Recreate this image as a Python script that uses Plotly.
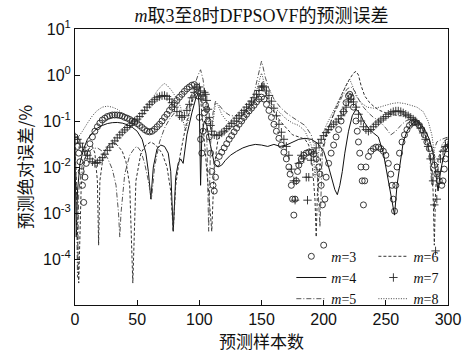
import plotly.graph_objects as go

# ---------------- data (sample index, absolute error %) ----------------
m3_pts = [(0,.045),(1,.038),(2,.028),(3,.02),(4,.013),(5,.008),(6,.004),(7,.0017),(8,.006),(9,.012),(10,.02),
          (12,.032),(14,.045),(16,.06),(18,.075),(20,.09),(22,.105),(24,.115),(26,.125),(28,.13),(30,.135),
          (32,.135),(34,.135),(36,.132),(38,.128),(40,.12),(42,.115),(44,.108),(46,.1),(48,.095),(50,.088),
          (52,.08),(54,.072),(56,.065),(58,.06),(60,.058),(62,.06),(64,.066),(66,.075),(68,.085),(70,.1),
          (72,.12),(74,.14),(76,.17),(78,.2),(80,.24),(82,.28),(84,.33),(86,.38),(88,.44),(90,.5),(92,.55),
          (94,.6),(96,.62),(98,.55),(99,.35),(100,.12),(101,.04),(102,.02),(103,.06),(104,.15),(105,.22),
          (106,.18),(107,.1),(108,.045),(109,.02),(110,.008),(111,.004),(112,.003),(113,.006),(114,.012),
          (116,.017),(118,.021),(120,.026),(122,.032),(124,.04),(126,.048),(128,.058),(130,.07),(132,.085),
          (134,.1),(136,.12),(138,.14),(140,.165),(142,.19),(144,.22),(146,.26),(148,.3),(150,.33),(152,.3),
          (154,.23),(156,.17),(158,.12),(160,.085),(162,.06),(164,.042),(166,.03),(168,.021),(170,.015),
          (172,.01),(173,.007),(174,.004),(175,.002),(176,.0009),(177,.002),(178,.005),(179,.008),(180,.011),
          (182,.015),(184,.018),(186,.02),(188,.021),(190,.021),(192,.019),(194,.015),(196,.01),(197,.007),
          (198,.004),(199,.0015),(200,.0002),(201,.002),(202,.006),(204,.012),(206,.02),(208,.03),(210,.045),
          (212,.065),(214,.1),(216,.16),(218,.25),(220,.35),(221,.38),(222,.33),(224,.2),(226,.1),(227,.06),
          (228,.035),(229,.02),(230,.01),(231,.005),(232,.0015),(233,.005),(234,.01),(236,.017),(238,.022),
          (240,.025),(242,.027),(244,.027),(246,.025),(248,.022),(250,.018),(252,.012),(254,.007),(255,.004),
          (256,.002),(257,.0011),(258,.004),(259,.01),(261,.02),(263,.035),(265,.05),(267,.065),(269,.08),
          (271,.09),(273,.095),(275,.09),(277,.08),(279,.065),(281,.05),(283,.035),(285,.025),(287,.017),
          (289,.011),(291,.007),(293,.005),(295,.004),(296,.005),(297,.009),(298,.015),(299,.025),(300,.035)]

m4_pts = [(0,.025),(1,.0003),(2,.003),(4,.012),(7,.025),(10,.04),(14,.055),(18,.07),(22,.08),(26,.088),
          (30,.092),(34,.093),(38,.09),(42,.083),(46,.073),(50,.06),(54,.04),(57,.02),(59,.008),(61,.002),
          (63,.01),(66,.025),(69,.03),(72,.028),(75,.02),(77,.008),(79,.0004),(81,.006),(83,.012),(85,.015),
          (87,.012),(90,.05),(94,.15),(97,.3),(99,.4),(100,.2),(101,.004),(102,.05),(104,.1),(106,.08),
          (108,.04),(110,.02),(112,.012),(115,.01),(118,.011),(121,.014),(125,.018),(130,.022),(135,.026),
          (140,.029),(145,.031),(150,.03),(155,.028),(160,.031),(165,.028),(170,.03),(175,.035),(180,.04),
          (185,.042),(190,.04),(195,.033),(200,.022),(204,.01),(207,.005),(209,.0032),(211,.0025),(213,.004),
          (215,.008),(217,.02),(220,.06),(223,.13),(226,.18),(229,.15),(232,.1),(236,.07),(240,.055),
          (244,.045),(248,.02),(251,.007),(254,.003),(257,.0009),(259,.004),(261,.01),(264,.035),(267,.06),
          (270,.08),(273,.095),(276,.095),(279,.08),(282,.06),(285,.04),(288,.02),(290,.008),(292,.003),
          (294,.008),(296,.015),(298,.022),(300,.028)]

m5_pts = [(0,.03),(1,.005),(2,.00004),(3,.003),(6,.012),(10,.02),(14,.025),(18,.026),(22,.022),(26,.016),
          (30,.009),(33,.004),(35,.001),(36,.0003),(37,.001),(40,.007),(44,.018),(48,.026),(50,.028),
          (53,.022),(56,.012),(59,.005),(61.5,.002),(64,.01),(68,.035),(72,.07),(76,.11),(80,.15),(84,.17),
          (87,.15),(90,.2),(93,.35),(96,.6),(99,1.0),(101,1.3),(103,.8),(105,.3),(106,.05),(107.5,.0004),
          (109,.03),(111,.15),(113,.27),(116,.22),(120,.16),(125,.13),(130,.13),(135,.15),(140,.22),(144,.4),
          (147,.9),(149,1.6),(150,2.0),(151,1.6),(153,.9),(156,.5),(160,.3),(165,.2),(170,.15),(175,.12),
          (180,.1),(185,.08),(190,.05),(194,.02),(197,.0005),(199,.02),(203,.06),(207,.12),(211,.2),(215,.35),
          (219,.5),(222,.55),(225,.45),(228,.3),(232,.2),(236,.15),(240,.12),(245,.1),(250,.07),(254,.05),
          (258,.06),(262,.08),(266,.1),(270,.11),(274,.1),(278,.08),(282,.05),(285,.02),(287,.004),(288,.02),
          (291,.035),(295,.04),(300,.045)]

m6_pts = [(0,.035),(1,.005),(3,.00003),(5,.004),(8,.015),(11,.025),(14,.028),(16,.02),(18,.005),(19,.0002),
          (20,.005),(23,.02),(27,.03),(31,.034),(34,.03),(38,.022),(41,.013),(44,.004),(46.5,.00003),(49,.005),
          (53,.02),(57,.03),(61,.035),(65,.03),(70,.02),(74,.01),(77,.003),(79,.0004),(81,.004),(84,.015),
          (87,.04),(90,.1),(94,.25),(97,.45),(99,.5),(101,.3),(103,.08),(105,.02),(107,.004),(110,.0004),
          (112,.01),(115,.04),(120,.06),(125,.07),(130,.08),(135,.1),(140,.15),(144,.25),(147,.4),(150,.6),
          (152,.5),(155,.3),(160,.16),(165,.1),(170,.07),(175,.05),(180,.045),(185,.04),(188,.03),(191,.01),
          (193,.002),(194,.0003),(195,.003),(198,.02),(202,.05),(206,.1),(210,.2),(215,.4),(220,.75),(224,1.1),
          (226,1.2),(228,1.0),(230,.6),(233,.35),(237,.25),(241,.2),(245,.17),(250,.15),(255,.14),(260,.13),
          (265,.13),(270,.12),(275,.1),(279,.07),(283,.04),(286,.015),(288,.003),(289,.0002),(290,.003),
          (292,.015),(295,.025),(298,.03),(300,.032)]

m7_pts = [(0,.045),(2,.04),(4,.033),(6,.027),(8,.022),(10,.018),(12,.015),(14,.013),(16,.012),(18,.0125),
          (20,.014),(22,.016),(24,.019),(26,.023),(28,.027),(30,.032),(32,.037),(34,.043),(36,.05),(38,.057),
          (40,.064),(42,.072),(44,.08),(46,.09),(48,.1),(50,.11),(52,.125),(54,.145),(56,.17),(58,.2),(60,.23),
          (62,.26),(64,.29),(66,.32),(68,.34),(70,.355),(72,.36),(74,.34),(76,.3),(78,.25),(80,.2),(82,.16),
          (84,.13),(86,.12),(88,.13),(90,.17),(92,.23),(94,.32),(96,.42),(98,.52),(100,.55),(101,.45),(102,.3),
          (103,.35),(104,.42),(105,.38),(106,.28),(107,.18),(108,.12),(109,.08),(110,.06),(112,.05),(114,.048),
          (116,.05),(118,.055),(120,.06),(122,.068),(124,.077),(126,.088),(128,.1),(130,.115),(132,.13),
          (134,.15),(136,.17),(138,.2),(140,.23),(142,.27),(144,.32),(146,.38),(148,.46),(150,.55),(151,.58),
          (152,.55),(154,.45),(156,.36),(158,.27),(160,.19),(162,.13),(164,.085),(166,.057),(168,.04),(170,.028),
          (172,.018),(174,.009),(176,.005),(177,.0019),(178,.005),(180,.012),(182,.018),(184,.015),(186,.006),
          (187,.0019),(188,.006),(190,.014),(192,.02),(194,.026),(196,.033),(198,.04),(200,.048),(202,.056),
          (204,.065),(206,.075),(208,.085),(210,.095),(212,.11),(214,.13),(216,.16),(218,.2),(220,.26),(222,.3),
          (224,.26),(226,.2),(228,.14),(230,.1),(232,.075),(234,.065),(236,.06),(238,.065),(240,.075),(242,.085),
          (244,.095),(246,.105),(248,.115),(250,.125),(252,.14),(254,.15),(256,.16),(258,.165),(260,.165),
          (262,.16),(264,.15),(266,.14),(268,.13),(270,.12),(272,.11),(274,.1),(276,.085),(278,.07),(280,.055),
          (282,.04),(284,.028),(286,.015),(288,.005),(289,.0015),(290,.00015),(291,.002),(292,.008),(294,.015),
          (296,.022),(298,.028),(300,.03)]

m8_pts = [(0,.035),(3,.045),(6,.06),(10,.09),(14,.13),(18,.17),(22,.2),(26,.21),(30,.2),(34,.18),(38,.15),
          (42,.12),(46,.1),(50,.1),(54,.13),(58,.2),(62,.3),(66,.45),(70,.6),(72,.65),(74,.6),(78,.45),(82,.3),
          (85,.2),(87,.1),(89,.06),(91,.1),(94,.3),(97,.6),(99,.5),(101,.3),(104,.2),(106,.12),(108,.08),
          (110,.06),(112,.15),(113,.25),(115,.22),(118,.14),(122,.1),(126,.09),(130,.1),(134,.13),(138,.18),
          (142,.28),(146,.45),(149,.9),(150,1.1),(151,.9),(153,.5),(156,.3),(160,.2),(165,.15),(170,.11),
          (175,.09),(180,.08),(185,.06),(188,.04),(190,.03),(192,.015),(193,.006),(195,.015),(198,.04),
          (202,.08),(206,.13),(210,.2),(214,.35),(218,.6),(221,.8),(223,.6),(226,.35),(230,.25),(235,.2),
          (240,.19),(245,.2),(250,.22),(255,.24),(260,.25),(265,.24),(270,.22),(275,.2),(280,.16),(284,.1),
          (287,.05),(289,.02),(291,.005),(292,.01),(295,.03),(298,.04),(300,.045)]

x_ticks = [0, 50, 100, 150, 200, 250, 300]
y_tickvals = [1e-5, 1e-4, 1e-3, 1e-2, 1e-1, 1e0, 1e1]
y_ticktext = ["", "10<sup>-4</sup>", "10<sup>-3</sup>", "10<sup>-2</sup>", "10<sup>-1</sup>",
              "10<sup>0</sup>", "10<sup>1</sup>"]

title_text = "<i>m</i>取3至8时DFPSOVF的预测误差"
x_title = "预测样本数"
y_title = "预测绝对误差/%"

def unzip(pts):
    return [p[0] for p in pts], [p[1] for p in pts]

fig = go.Figure()

def add_line(pts, name, color, dash, legend):
    xs, ys = unzip(pts)
    fig.add_trace(go.Scatter(x=xs, y=ys, mode="lines", name=name,
                             line=dict(color=color, width=1, dash=dash), legend=legend))

def add_markers(pts, name, symbol, size, legend):
    xs, ys = unzip(pts)
    fig.add_trace(go.Scatter(x=xs, y=ys, mode="markers", name=name,
                             marker=dict(symbol=symbol, size=size, color="#262626",
                                         line=dict(color="#262626", width=0.9)), legend=legend))

add_markers(m3_pts, "<i>m</i>=3", "circle-open", 6, "legend")
add_line(m4_pts, "<i>m</i>=4", "#111", "solid", "legend")
add_line(m5_pts, "<i>m</i>=5", "#555", "5px,2px,1px,2px", "legend")
add_line(m6_pts, "<i>m</i>=6", "#333", "3px,2px", "legend2")
add_markers(m7_pts, "<i>m</i>=7", "cross-thin-open", 6, "legend2")
add_line(m8_pts, "<i>m</i>=8", "#444", "1px,1.5px", "legend2")

serif = "Liberation Serif, Times New Roman, Noto Sans CJK SC, serif"
cjk = "Noto Sans CJK SC, sans-serif"
sans = "Liberation Sans, Arial, sans-serif"

leg_common = dict(font=dict(family=serif, size=14, color="#111"), bgcolor="rgba(0,0,0,0)",
                  borderwidth=0, tracegroupgap=0, itemwidth=30, yanchor="top", xanchor="left")

fig.update_layout(
    width=473, height=356,
    margin=dict(l=75, r=20, t=29, b=43),
    paper_bgcolor="white", plot_bgcolor="white",
    title=dict(text=title_text, x=0.5, xref="paper", y=1 - 16 / 356, yref="container",
               xanchor="center", yanchor="middle", font=dict(family=serif, size=18, color="#111")),
    legend=dict(x=0.58, y=0.233, **leg_common),
    legend2=dict(x=0.80, y=0.233, **leg_common),
    xaxis=dict(range=[0, 300], tickvals=x_ticks, ticks="inside", ticklen=5, tickcolor="#111",
               showline=True, linecolor="#111", linewidth=1, mirror=True, showgrid=False, zeroline=False,
               tickfont=dict(family=sans, size=16, color="#111"),
               title=dict(text=x_title, font=dict(family=cjk, size=17, color="#111"), standoff=4)),
    yaxis=dict(type="log", range=[-5, 1], tickvals=y_tickvals, ticktext=y_ticktext,
               ticks="inside", ticklen=5, tickcolor="#111",
               showline=True, linecolor="#111", linewidth=1, mirror=True, showgrid=False, zeroline=False,
               tickfont=dict(family=sans, size=16, color="#111"),
               title=dict(text=y_title, font=dict(family=cjk, size=17, color="#111"), standoff=6)),
)

fig.write_html("out.html")
